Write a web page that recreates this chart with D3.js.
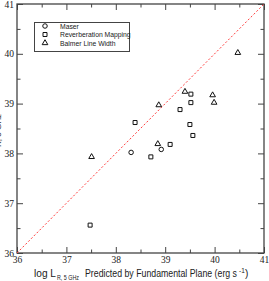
<!DOCTYPE html>
<html>
<head>
<meta charset="utf-8">
<script src="https://cdn.jsdelivr.net/npm/d3@7"></script>
<style>
  body { margin: 0; background: #fff; }
  svg { display: block; }
</style>
</head>
<body>
<div id="chart"></div>
<script>
const WIDTH = 269;
const HEIGHT = 281;

// data: [predicted, observed]
const maser = [[38.31, 38.02], [38.92, 38.08]];
const reverberation = [
    [37.48, 36.56], [38.39, 38.62], [38.71, 37.93], [39.10, 38.18], [39.30, 38.88],
    [39.50, 38.58], [39.52, 39.02], [39.52, 39.19], [39.56, 38.36]
];
const balmer = [
    [37.51, 37.93], [38.85, 38.19], [38.87, 38.97], [39.40, 39.24],
    [39.96, 39.17], [39.99, 39.02], [40.47, 40.02]
];
const legendLabels = ["Maser", "Reverberation Mapping", "Balmer Line Width"];
const majorTicks = [36, 37, 38, 39, 40, 41];
const minorTicks = [36.5, 37.5, 38.5, 39.5, 40.5];
const axisDomain = [36, 41];

const margin = { top: 4, right: 5, bottom: 28, left: 17 };

const svg = d3.select("#chart").append("svg")
    .attr("width", WIDTH)
    .attr("height", HEIGHT);

const x = d3.scaleLinear().domain(axisDomain).range([margin.left, WIDTH - margin.right]);
const y = d3.scaleLinear().domain(axisDomain).range([HEIGHT - margin.bottom, margin.top]);

const AXIS_COLOR = "#444";
const tickFont = "'Liberation Serif', 'Times New Roman', serif";
const labelFont = "'Liberation Sans', Arial, sans-serif";

// ticks (inward), majors with labels
function styleAxis(g) {
    g.select(".domain").remove();
    g.selectAll("line").attr("stroke", AXIS_COLOR).attr("stroke-width", 1);
    g.selectAll("text").attr("font-family", tickFont).attr("font-size", 9.5).attr("fill", "#222");
}

svg.append("g")
    .attr("transform", `translate(0,${y(36)})`)
    .call(d3.axisBottom(x).tickValues(majorTicks).tickSize(-6).tickPadding(3).tickFormat(d3.format("d")))
    .call(styleAxis);
svg.append("g")
    .attr("transform", `translate(0,${y(36)})`)
    .call(d3.axisBottom(x).tickValues(minorTicks).tickSize(-3.5).tickFormat(""))
    .call(styleAxis);

svg.append("g")
    .attr("transform", `translate(${x(36)},0)`)
    .call(d3.axisLeft(y).tickValues(majorTicks).tickSize(-6).tickPadding(3).tickFormat(d3.format("d")))
    .call(styleAxis);
svg.append("g")
    .attr("transform", `translate(${x(36)},0)`)
    .call(d3.axisLeft(y).tickValues(minorTicks).tickSize(-3.5).tickFormat(""))
    .call(styleAxis);

svg.append("g")
    .attr("transform", `translate(0,${y(41)})`)
    .call(d3.axisTop(x).tickValues(majorTicks).tickSize(-6).tickFormat(""))
    .call(styleAxis);
svg.append("g")
    .attr("transform", `translate(0,${y(41)})`)
    .call(d3.axisTop(x).tickValues(minorTicks).tickSize(-3.5).tickFormat(""))
    .call(styleAxis);

svg.append("g")
    .attr("transform", `translate(${x(41)},0)`)
    .call(d3.axisRight(y).tickValues(majorTicks).tickSize(-6).tickFormat(""))
    .call(styleAxis);
svg.append("g")
    .attr("transform", `translate(${x(41)},0)`)
    .call(d3.axisRight(y).tickValues(minorTicks).tickSize(-3.5).tickFormat(""))
    .call(styleAxis);

// frame
svg.append("rect")
    .attr("x", x(36))
    .attr("y", y(41))
    .attr("width", x(41) - x(36))
    .attr("height", y(36) - y(41))
    .attr("fill", "none")
    .attr("stroke", AXIS_COLOR)
    .attr("stroke-width", 1.3);

// one-to-one line
svg.append("line")
    .attr("x1", x(axisDomain[0]))
    .attr("y1", y(axisDomain[0]))
    .attr("x2", x(axisDomain[1]))
    .attr("y2", y(axisDomain[1]))
    .attr("stroke", "#ff3b3b")
    .attr("stroke-width", 1)
    .attr("stroke-dasharray", "2,2");

// markers
const symCircle = d3.symbol().type(d3.symbolCircle).size(16);
const symSquare = d3.symbol().type(d3.symbolSquare).size(16);
const symTriangle = d3.symbol().type(d3.symbolTriangle).size(14);

function drawPoints(data, sym) {
    svg.append("g").selectAll("path")
        .data(data)
        .enter().append("path")
        .attr("transform", d => `translate(${x(d[0])},${y(d[1])})`)
        .attr("d", sym)
        .attr("fill", "none")
        .attr("stroke", "#111")
        .attr("stroke-width", 1);
}
drawPoints(maser, symCircle);
drawPoints(reverberation, symSquare);
drawPoints(balmer, symTriangle);

// legend
const legend = svg.append("g");
legend.append("rect")
    .attr("x", 34.5).attr("y", 22.5)
    .attr("width", 95).attr("height", 29)
    .attr("fill", "#fff")
    .attr("stroke", AXIS_COLOR)
    .attr("stroke-width", 1);
const legendSyms = [symCircle, symSquare, symTriangle];
legendLabels.forEach((label, i) => {
    const ly = 26 + i * 8.5;
    legend.append("path")
        .attr("transform", `translate(45,${ly})`)
        .attr("d", legendSyms[i])
        .attr("fill", "none")
        .attr("stroke", "#111")
        .attr("stroke-width", 1);
    legend.append("text")
        .attr("x", 60)
        .attr("y", ly + 2.5)
        .attr("font-family", labelFont)
        .attr("font-size", 6.8)
        .attr("fill", "#222")
        .text(label);
});

// x axis title
const xt = svg.append("text")
    .attr("y", 277)
    .attr("font-family", labelFont)
    .attr("font-size", 10)
    .attr("fill", "#222");
xt.append("tspan").attr("x", 34).attr("textLength", 22).attr("lengthAdjust", "spacingAndGlyphs").text("log L");
xt.append("tspan").attr("x", 57).attr("dy", 3).attr("font-size", 6.5)
    .attr("textLength", 22).attr("lengthAdjust", "spacingAndGlyphs").text("R, 5 GHz");
xt.append("tspan").attr("x", 85).attr("dy", -3)
    .attr("textLength", 152).attr("lengthAdjust", "spacingAndGlyphs").text("Predicted by Fundamental Plane (erg s");
xt.append("tspan").attr("x", 239).attr("font-size", 6.5).attr("dy", -4).text("-1");
xt.append("tspan").attr("x", 245).attr("dy", 4).text(")");

// y axis title, mostly clipped by the left edge
const yt = svg.append("text")
    .attr("transform", "translate(-4,170) rotate(-90)")
    .attr("font-family", labelFont)
    .attr("font-size", 10)
    .attr("fill", "#222");
yt.append("tspan").attr("x", 0).attr("textLength", 22).attr("lengthAdjust", "spacingAndGlyphs").text("log L");
yt.append("tspan").attr("x", 23).attr("font-size", 6.5).attr("dy", 5)
    .attr("textLength", 33).attr("lengthAdjust", "spacingAndGlyphs").text("R, 5 GHz");
yt.append("tspan").attr("x", 62).attr("dy", -5).text("Observed (erg s");
yt.append("tspan").attr("font-size", 6.5).attr("dy", -4).text("-1");
yt.append("tspan").attr("dy", 4).text(")");
</script>
</body>
</html>
